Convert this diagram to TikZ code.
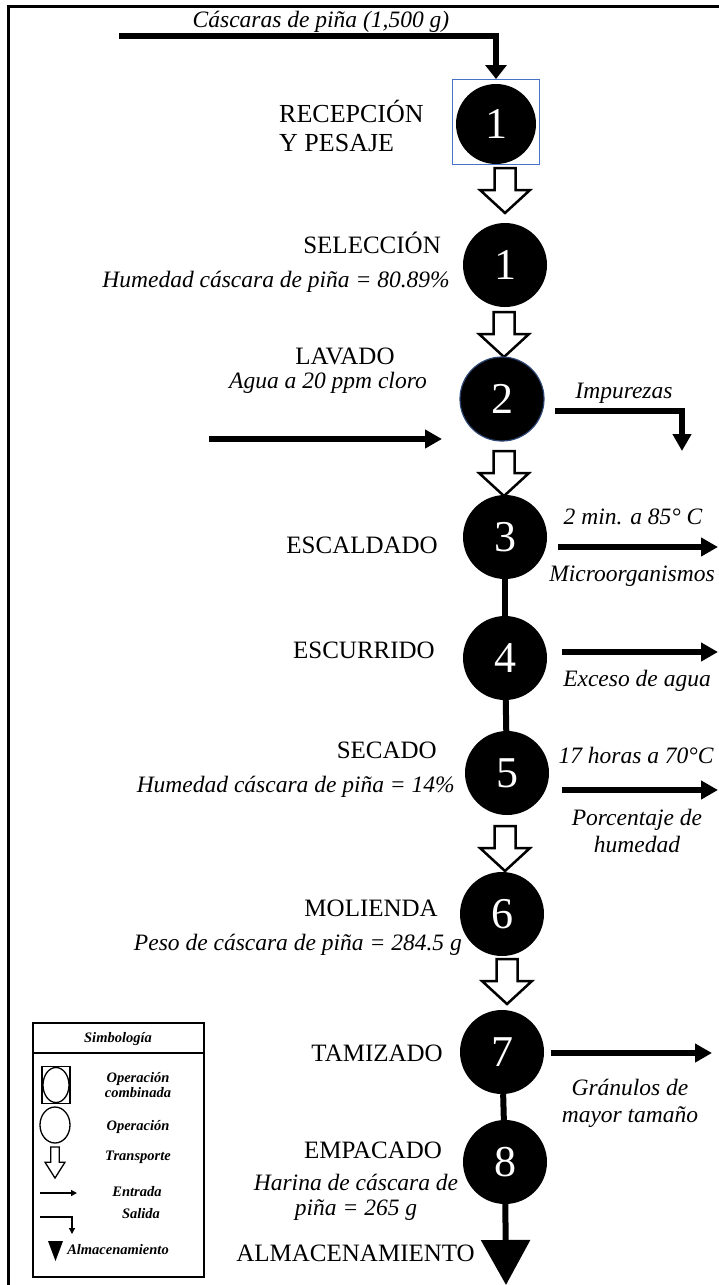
\documentclass[tikz,border=0pt]{standalone}
\usepackage{fontspec}
\setmainfont{Liberation Serif}
\usetikzlibrary{arrows.meta,shapes.geometric}

\definecolor{boxblue}{RGB}{68,114,196}
\definecolor{rimblue}{RGB}{45,70,115}
\newcommand\stagefont{\fontsize{25}{28}\selectfont}
\newcommand\notefont{\fontsize{23.5}{27}\selectfont\itshape}
\newcommand\digitfont{\fontsize{44}{44}\selectfont}
\newcommand\legfont{\fontsize{14.5}{15}\selectfont\bfseries\itshape}

\tikzset{
    oper/.style={circle, fill=black, text=white, inner sep=0pt, minimum size=84pt, font=\digitfont},
    stage/.style={font=\stagefont, inner sep=0pt},
    note/.style={font=\notefont, inner sep=0pt, align=center},
    flow/.style={line width=6pt, -{Triangle[width=18pt,length=17pt]}},
    link/.style={line width=6pt},
    legtext/.style={font=\legfont, inner sep=0pt, align=center},
    legline/.style={line width=1.3pt, -{Triangle[width=6pt,length=6pt]}},
    transport/.pic={
        \filldraw[fill=white, line join=miter] (-10.5,0) -- (-10.5,22) -- (-25,22)
            -- (0,45) -- (25,22) -- (10.5,22) -- (10.5,0) -- cycle;
    }
}

\begin{document}
\begin{tikzpicture}[x=1pt, y=-1pt]
    \useasboundingbox (0,0) rectangle (719,1285);
    \draw[line width=3pt] (8,1285) -- (8,6) -- (719,6);

    % recepcion y pesaje
    \node[draw=boxblue, line width=1pt, minimum width=87pt, minimum height=85pt, inner sep=0pt] (box) at (496,122) {};
    \node[oper, minimum size=80pt] (c1r) at (496,124) {1};
    \node[stage, anchor=west, align=left, font=\fontsize{26}{29}\selectfont] (l1r) at (279,126) {RECEPCIÓN\\Y PESAJE};
    \node[note] (in0) at (321,22) {Cáscaras de piña (1,500 g)};
    \coordinate (in1) at (119,36);
    \draw[line width=6pt, -{Triangle[width=21pt,length=14pt]}] (in1) -| (box.north);

    % seleccion
    \pic[line width=2.5pt] at (505,168) {transport};
    \node[oper] (c1s) at (505,265) {1};
    \node[stage, anchor=east] (l1s) at (441,243) {SELECCIÓN};
    \node[note, anchor=east] (n1s) at (450,282) {Humedad cáscara de piña = 80.89\%};

    % lavado
    \pic[line width=2.5pt] at (504,312) {transport};
    \node[oper, draw=rimblue, line width=1.2pt] (c2) at (502,399) {2};
    \node[stage] (l2) at (345,356) {LAVADO};
    \node[note] (n2) at (328,383) {Agua a 20 ppm cloro};
    \coordinate (w0) at (209,439);
    \coordinate (w1) at (442,439);
    \draw[flow] (w0) -- (w1);
    \node[note] (n2b) at (624,393) {Impurezas};
    \coordinate (s2) at (555,411);
    \coordinate (s2e) at (682,451);
    \draw[flow] (s2) -| (s2e);

    % escaldado
    \pic[line width=2.5pt] at (504,451) {transport};
    \node[oper] (c3) at (505,537) {3};
    \node[stage, anchor=east] (l3) at (438,545) {ESCALDADO};
    \node[note] (n3) at (633,517) {2 min. a 85° C};
    \coordinate (e3a) at (558,547);
    \coordinate (e3b) at (718,547);
    \draw[flow] (e3a) -- (e3b);
    \node[note] (n3b) at (632,576) {Microorganismos};

    % escurrido
    \node[oper] (c4) at (505,658) {4};
    \draw[link] (c3) -- (c4);
    \node[stage, anchor=east] (l4) at (435,650) {ESCURRIDO};
    \coordinate (e4a) at (562,652);
    \coordinate (e4b) at (718,652);
    \draw[flow] (e4a) -- (e4b);
    \node[note] (n4) at (637,681) {Exceso de agua};

    % secado
    \node[oper] (c5) at (507,773) {5};
    \draw[link] (c4) -- (c5);
    \node[stage, anchor=east] (l5) at (437,750) {SECADO};
    \node[note, anchor=east] (n5) at (455,787) {Humedad cáscara de piña = 14\%};
    \node[note] (n5a) at (636,755) {17 horas a 70°C};
    \coordinate (e5a) at (562,790);
    \coordinate (e5b) at (718,790);
    \draw[flow] (e5a) -- (e5b);
    \node[note] (n5b) at (637,831) {Porcentaje de\\humedad};

    % molienda
    \pic[line width=2.5pt] at (505,826) {transport};
    \node[oper] (c6) at (502,914) {6};
    \node[stage, anchor=east] (l6) at (438,908) {MOLIENDA};
    \node[note, anchor=east] (n6) at (462,945) {Peso de cáscara de piña = 284.5 g};

    % tamizado
    \pic[line width=2.5pt] at (507,959) {transport};
    \node[oper] (c7) at (502,1052) {7};
    \node[stage, anchor=east] (l7) at (443,1053) {TAMIZADO};
    \coordinate (e7a) at (551,1053);
    \coordinate (e7b) at (712,1053);
    \draw[flow] (e7a) -- (e7b);
    \node[note] (n7) at (630,1103) {Gránulos de\\mayor tamaño};

    % empacado y almacenamiento
    \node[oper] (c8) at (505,1162) {8};
    \draw[link] (c7) -- (c8);
    \node[stage] (l8) at (373,1150) {EMPACADO};
    \node[note, font=\fontsize{23.5}{25}\selectfont\itshape] (n8) at (356,1197) {Harina de cáscara de\\piña = 265 g};
    \node[stage, anchor=east] (l9) at (475,1253) {ALMACENAMIENTO};
    \coordinate (store) at (506,1285);
    \draw[line width=6pt, -{Triangle[width=48pt,length=45pt]}] (c8) -- (store);

    % simbologia
    \node[draw, line width=1.5pt, minimum width=171pt, minimum height=254pt, inner sep=0pt] (leg) at (118.5,1150) {};
    \coordinate (hd) at (0,1053);
    \draw[line width=1.2pt] (leg.west |- hd) -- (leg.east |- hd);
    \node[legtext] (legh) at (118,1039) {Simbología};
    \node[draw, line width=1.3pt, minimum width=28pt, minimum height=37pt, inner sep=0pt] (lgbox) at (56,1085) {};
    \node[ellipse, draw, line width=1.3pt, minimum width=26pt, minimum height=35pt, inner sep=0pt] (lgcomb) at (56,1085) {};
    \node[legtext] (lg1) at (138,1085) {Operación\\combinada};
    \node[ellipse, draw, line width=1.3pt, minimum width=30pt, minimum height=36pt, inner sep=0pt] (lgop) at (55,1125) {};
    \node[legtext] (lg2) at (138,1127) {Operación};
    \pic[line width=1.3pt, xscale=0.4, yscale=0.69] at (55,1147) {transport};
    \node[legtext] (lg3) at (138,1157) {Transporte};
    \coordinate (le0) at (40,1193);
    \coordinate (le1) at (77,1193);
    \draw[legline] (le0) -- (le1);
    \node[legtext] (lg4) at (137,1192) {Entrada};
    \coordinate (ls0) at (40,1217);
    \coordinate (ls1) at (72,1234);
    \draw[legline] (ls0) -| (ls1);
    \node[legtext] (lg5) at (141,1214) {Salida};
    \fill (48,1241) -- (63,1241) -- (55.5,1261) -- cycle;
    \node[legtext] (lg6) at (118,1250) {Almacenamiento};
\end{tikzpicture}
\end{document}
